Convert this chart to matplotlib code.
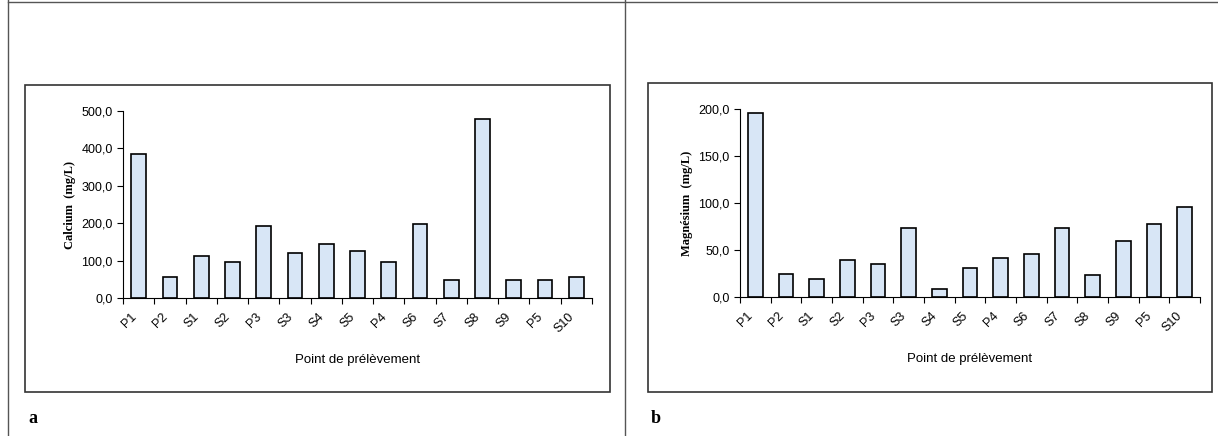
import numpy as np
import matplotlib.pyplot as plt
from matplotlib.patches import Rectangle

W, H = 1218, 436

points = ["P1", "P2", "S1", "S2", "P3", "S3", "S4", "S5", "P4", "S6", "S7", "S8", "S9", "P5", "S10"]
calcium = [385, 57, 112, 97, 193, 120, 145, 127, 97, 197, 48, 478, 48, 48, 57]
magnesium = [196, 25, 19, 39, 35, 73, 8, 31, 42, 46, 73, 23, 60, 78, 96]

fig = plt.figure(figsize=(W / 100, H / 100), dpi=100)
plt.rcParams['font.family'] = ['Liberation Sans', 'DejaVu Sans']


def px(x0, y0, x1, y1):
    # pixel box -> figure fraction [left, bottom, width, height]
    return [x0 / W, 1 - y1 / H, (x1 - x0) / W, (y1 - y0) / H]


# outer frame lines
fig.add_artist(plt.Line2D([8 / W, 8 / W], [0, 1], color="#555555", lw=1))
fig.add_artist(plt.Line2D([625 / W, 625 / W], [0, 1], color="#555555", lw=1))
fig.add_artist(plt.Line2D([8 / W, 1], [1 - 2 / H, 1 - 2 / H], color="#555555", lw=1))

# chart boxes
for box in [(25, 85, 610, 392), (648, 83, 1212, 392)]:
    b = px(*box)
    fig.add_artist(Rectangle((b[0], b[1]), b[2], b[3], transform=fig.transFigure,
                             fill=False, edgecolor="#333333", lw=1.2))

fig.text(28 / W, 1 - 418 / H, "a", fontsize=13, fontweight="bold", family="Liberation Serif", va="center")
fig.text(651 / W, 1 - 418 / H, "b", fontsize=13, fontweight="bold", family="Liberation Serif", va="center")


def draw(rect, values, ymax, step, ylabel):
    ax = fig.add_axes(px(*rect))
    x = np.arange(len(points))
    ax.bar(x, values, width=0.47, color="#d8e6f6", edgecolor="black", linewidth=1.2)
    ax.set_xlim(-0.5, len(points) - 0.5)
    ax.set_ylim(0, ymax)
    ax.set_yticks(np.arange(0, ymax + 1, step))
    ax.set_yticklabels([f"{v:.1f}".replace(".", ",") for v in np.arange(0, ymax + 1, step)], fontsize=9)
    ax.set_xticks(np.arange(-0.5, len(points) + 0.5, 1))
    ax.set_xticklabels([])
    ax.set_xticks(x, minor=True)
    ax.set_xticklabels(points, minor=True, rotation=45, ha="right", fontsize=9)
    ax.tick_params(axis="x", which="minor", length=0, pad=9)
    ax.tick_params(axis="x", which="major", direction="out", length=4)
    ax.tick_params(axis="y", direction="out", length=4)
    for s in ["top", "right"]:
        ax.spines[s].set_visible(False)
    ax.set_ylabel(ylabel, fontsize=9, family="Liberation Serif", fontweight="bold")
    ax.set_xlabel("Point de prélèvement", fontsize=9.5, labelpad=14)
    return ax


draw((123, 111, 592, 298), calcium, 500, 100, "Calcium  (mg/L)")
draw((740, 109, 1200, 297), magnesium, 200, 50, "Magnésium  (mg/L)")

fig.savefig("out.png", dpi=100)
